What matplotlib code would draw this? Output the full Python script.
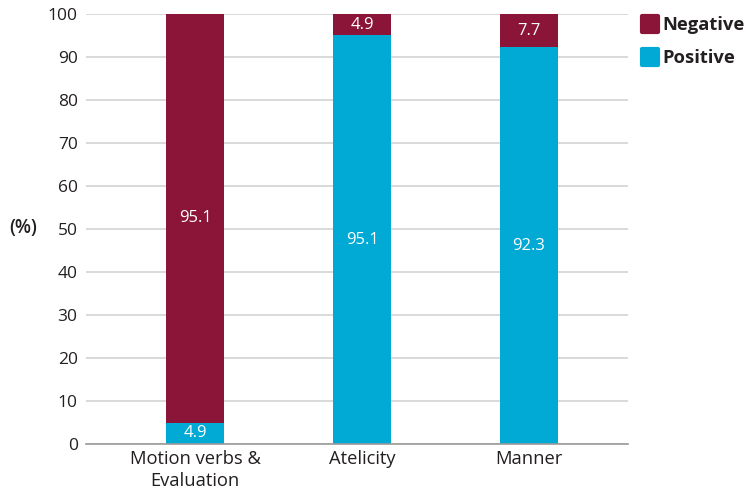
import matplotlib
matplotlib.use("Agg")
import matplotlib.pyplot as plt
from matplotlib.lines import Line2D
from matplotlib.markers import MarkerStyle

plt.rcParams['font.family'] = ['Open Sans', 'DejaVu Sans']

categories = ["Motion verbs &\nEvaluation", "Atelicity", "Manner"]
positive = [4.9, 95.1, 92.3]
negative = [95.1, 4.9, 7.7]
series_names = ["Negative", "Positive"]
yticks = list(range(0, 101, 10))

neg_color = "#8B1538"
pos_color = "#00AAD4"
text_color = "#231F20"

fig = plt.figure(figsize=(7.49, 4.92), dpi=100)
ax = fig.add_axes([86/749, 1 - 444/492, (628 - 86)/749, (444 - 14)/492])

x = list(range(len(categories)))
width = 0.35
ax.bar(x, positive, width=width, color=pos_color, zorder=3)
ax.bar(x, negative, width=width, bottom=positive, color=neg_color, zorder=3)

for xi, p, n in zip(x, positive, negative):
    ax.text(xi, p / 2, f"{p:.1f}", ha="center", va="center", color="white",
            fontsize=12, zorder=4)
    ax.text(xi, p + n / 2, f"{n:.1f}", ha="center", va="center", color="white",
            fontsize=12, zorder=4)

ax.set_xlim(-0.653, 2.593)
ax.set_ylim(0, 100)
ax.set_yticks(yticks)
ax.set_yticklabels([str(t) for t in yticks], fontsize=12.5, color=text_color)
ax.set_xticks(x)
ax.set_xticklabels(categories, fontsize=13.2, color=text_color, linespacing=1.3)
ax.tick_params(axis="x", length=0, pad=4)
ax.tick_params(axis="y", length=0, pad=6)

ax.yaxis.grid(True, color="#D3D3D3", linewidth=1.2, zorder=0)
for s in ["top", "right", "left"]:
    ax.spines[s].set_visible(False)
ax.spines["bottom"].set_color("#9A9A9A")
ax.spines["bottom"].set_linewidth(1.2)
ax.spines["bottom"].set_zorder(5)

fig.text(23/749, 1 - 228/492, "(%)", ha="center", va="center", fontsize=13.5,
         color=text_color, fontweight="semibold")

rounded_square = MarkerStyle("s", joinstyle="round")
handles = [Line2D([0], [0], marker=rounded_square, linestyle="none",
                  markersize=11, markeredgewidth=3,
                  markerfacecolor=c, markeredgecolor=c)
           for c in (neg_color, pos_color)]
leg = fig.legend(handles, series_names, loc="upper left",
                 bbox_to_anchor=(632/749, 1 - 9/492), frameon=False,
                 prop={"size": 13.2, "weight": "bold"}, handletextpad=0.05,
                 labelspacing=0.8, handlelength=1.2, borderaxespad=0)
for t in leg.get_texts():
    t.set_color(text_color)

fig.savefig("out.png", dpi=100)
